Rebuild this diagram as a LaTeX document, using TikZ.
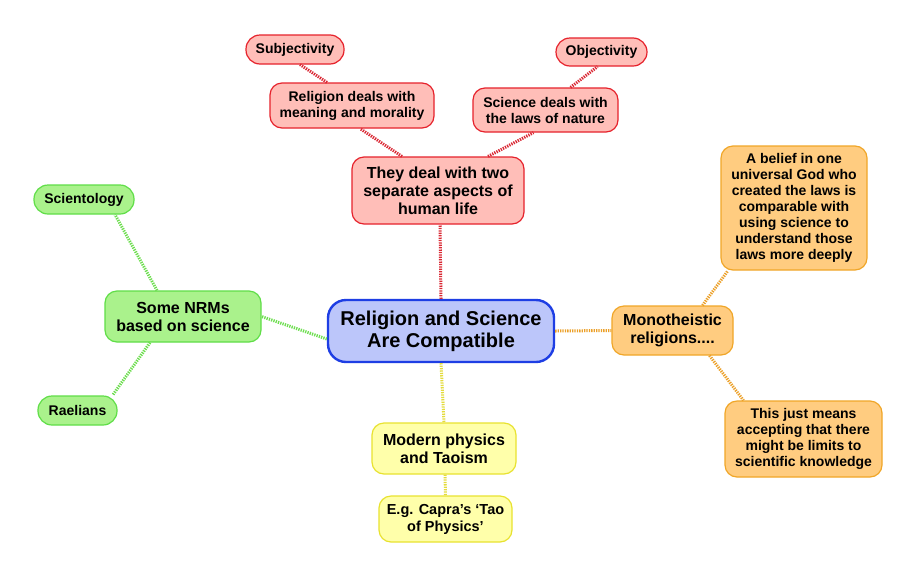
\documentclass[tikz,border=0pt]{standalone}
\usepackage{fontspec}
\setmainfont{Liberation Sans}
\begin{document}
\begin{tikzpicture}[x=1pt,y=-1pt,
  base/.style={draw, rounded corners=12pt, align=center, inner sep=0pt, font=\bfseries\fontsize{14}{16}\selectfont, line width=1.2pt},
  med/.style={base, font=\bfseries\fontsize{16}{18}\selectfont},
  redn/.style={fill=redfill, draw=redline},
  orn/.style={fill=orfill, draw=orline},
  yen/.style={fill=yefill, draw=yeline},
  grn/.style={fill=grfill, draw=grline},
  link/.style={line width=3pt, dash pattern=on 1.3pt off 1.1pt},
  rlink/.style={link, draw=redc},
  olink/.style={link, draw=orc},
  ylink/.style={link, draw=yec},
  glink/.style={link, draw=grc}]
\definecolor{redfill}{RGB}{255,190,184}
\definecolor{redline}{RGB}{230,34,44}
\definecolor{redc}{RGB}{218,40,52}
\definecolor{orfill}{RGB}{255,204,128}
\definecolor{orline}{RGB}{240,166,40}
\definecolor{orc}{RGB}{236,160,40}
\definecolor{yefill}{RGB}{255,255,170}
\definecolor{yeline}{RGB}{232,226,48}
\definecolor{yec}{RGB}{228,220,60}
\definecolor{grfill}{RGB}{170,242,140}
\definecolor{grline}{RGB}{96,222,72}
\definecolor{grc}{RGB}{110,222,80}
\definecolor{bluefill}{RGB}{188,198,250}
\definecolor{blueline}{RGB}{30,62,228}
\useasboundingbox[fill=white] (0,0) rectangle (917,576);

% center
\node[draw=blueline, fill=bluefill, line width=2.4pt, rounded corners=18pt, align=center, inner sep=0pt,
  minimum width=226pt, minimum height=62pt, font=\bfseries\fontsize{20}{22}\selectfont]
  (c) at (441,331) {Religion and Science\\Are Compatible};

% red branch
\node[med, redn, minimum width=172pt, minimum height=67pt] (td) at (438,190.5) {They deal with two\\separate aspects of\\human life};
\node[base, redn, minimum width=164pt, minimum height=45pt] (rd) at (352,105.5) {Religion deals with\\meaning and morality};
\node[base, redn, minimum width=98pt, minimum height=29pt, rounded corners=14pt] (subj) at (295,49.5) {Subjectivity};
\node[base, redn, minimum width=145pt, minimum height=44pt] (sd) at (545.5,110) {Science deals with\\the laws of nature};
\node[base, redn, minimum width=91pt, minimum height=28pt, rounded corners=14pt] (obj) at (601.5,52) {Objectivity};

% orange branch
\node[med, orn, minimum width=121pt, minimum height=49pt] (mono) at (672.5,330.5) {Monotheistic\\religions....};
\node[base, orn, minimum width=146pt, minimum height=124pt] (bel) at (794,208) {A belief in one\\universal God who\\created the laws is\\comparable with\\using science to\\understand those\\laws more deeply};
\node[base, orn, minimum width=157pt, minimum height=76pt] (tjm) at (803.5,439) {This just means\\accepting that there\\might be limits to\\scientific knowledge};

% yellow branch
\node[med, yen, minimum width=144pt, minimum height=51pt] (mod) at (444,448.5) {Modern physics\\and Taoism};
\node[base, yen, minimum width=133pt, minimum height=46pt, font=\bfseries\fontsize{14.5}{17}\selectfont] (cap) at (445.5,519) {E.g. Capra's ‘Tao\\of Physics’};

% green branch
\node[med, grn, minimum width=156pt, minimum height=51pt] (nrm) at (183,316.5) {Some NRMs\\based on science};
\node[base, grn, minimum width=100pt, minimum height=29pt, rounded corners=14pt] (sci) at (84,199.5) {Scientology};
\node[base, grn, minimum width=79pt, minimum height=29pt, rounded corners=14pt] (rae) at (77.5,410.5) {Raelians};

% connectors
\draw[rlink] (c.north) -- ([xshift=2pt]td.south);
\draw[rlink] ([xshift=-36pt]td.north) -- ([xshift=8pt]rd.south);
\draw[rlink] ([xshift=50pt]td.north) -- ([xshift=-12pt]sd.south);
\draw[rlink] ([xshift=-25pt]rd.north) -- ([xshift=5pt]subj.south);
\draw[rlink] ([xshift=25pt]sd.north) -- ([xshift=-4pt]obj.south);

\draw[olink] (c.east) -- (mono.west);
\draw[olink] ([xshift=30pt]mono.north) -- ([xshift=-66pt]bel.south);
\draw[olink] ([xshift=37pt]mono.south) -- ([xshift=-60pt]tjm.north);

\draw[ylink] (c.south) -- (mod.north);
\draw[ylink] ([xshift=1pt]mod.south) -- (cap.north);

\draw[glink] ([yshift=-8pt]c.west) -- (nrm.east);
\draw[glink] ([xshift=-26pt]nrm.north) -- ([xshift=31pt]sci.south);
\draw[glink] ([xshift=-33pt]nrm.south) -- ([xshift=35pt]rae.north);
\end{tikzpicture}
\end{document}
